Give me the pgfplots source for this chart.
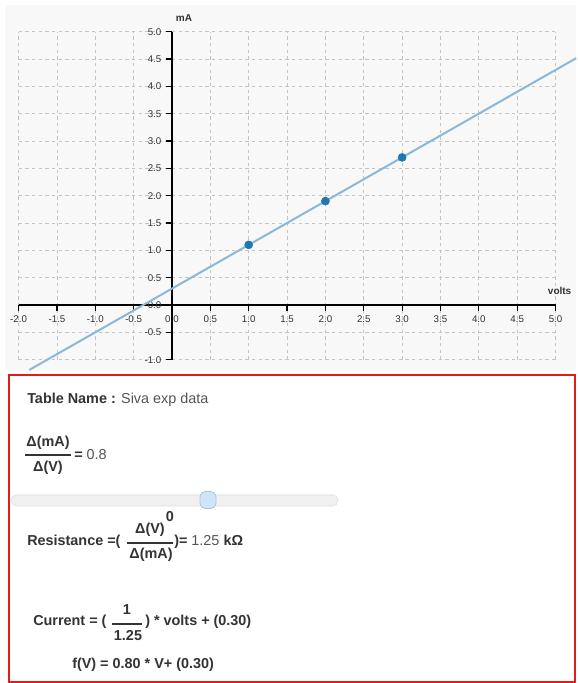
\documentclass[border=0pt]{standalone}
\usepackage{pgfplots}
\pgfplotsset{compat=1.18}
\usepackage{fontspec}
\setmainfont{Liberation Sans}

\definecolor{bgchart}{HTML}{F8F8F8}
\definecolor{gridc}{HTML}{C4C4C4}
\definecolor{fitline}{HTML}{8AB8DA}
\definecolor{ptblue}{HTML}{1F77B4}
\definecolor{boxred}{HTML}{E41B1B}
\definecolor{txtdark}{HTML}{333333}
\definecolor{txtgray}{HTML}{555555}
\definecolor{slidefill}{HTML}{F0F0F0}
\definecolor{slidedraw}{HTML}{DDDDDD}
\definecolor{knobfill}{HTML}{D2E5F8}
\definecolor{knobdraw}{HTML}{A4C6E8}

\begin{document}
\begin{tikzpicture}
% frame in pixels of the reference (1px = 0.75pt, y measured upwards)
\begin{scope}[x=0.75pt,y=0.75pt]
\useasboundingbox (0,0) rectangle (576,683);
\fill[white] (0,0) rectangle (576,683);
\fill[bgchart] (5,313) rectangle (576,678);
\end{scope}

% origin of the data at pixel (172, 305) from the top-left
\begin{axis}[
  at={(129pt,283.5pt)}, anchor=origin,
  scale only axis, width=402.75pt, height=246pt,
  xmin=-2, xmax=5, ymin=-1, ymax=5,
  axis lines=middle,
  clip=false,
  xtick={-2,-1.5,-1,-0.5,0,0.5,1,1.5,2,2.5,3,3.5,4,4.5,5},
  ytick={-1,-0.5,0,0.5,1,1.5,2,2.5,3,3.5,4,4.5,5},
  hide obscured x ticks=false, hide obscured y ticks=false,
  grid=major,
  major grid style={gridc, dash pattern=on 2.5pt off 2.5pt, line width=0.6pt},
  axis line style={-, black, line width=0.9pt},
  tick style={black, line width=0.9pt},
  tick align=outside, major tick length=4.5pt,
  ticklabel style={font=\fontsize{7.3}{8}\selectfont, text=txtdark},
  /pgf/number format/fixed,
  /pgf/number format/fixed zerofill,
  /pgf/number format/precision=1,
  /pgf/number format/assume math mode=true,
]
% fitted line f(V) = 0.80 V + 0.30, end points
\addplot[fitline, line width=1.5pt, no marks] coordinates {(-1.86,-1.188) (5.27,4.516)};
% measured points
\addplot[only marks, mark=*, mark size=3pt, ptblue] coordinates {(1,1.1) (2,1.9) (3,2.7)};
\end{axis}

\begin{scope}[x=0.75pt,y=0.75pt,
  txt/.style={inner sep=0pt, text=txtdark, font=\fontsize{10.8}{13}\selectfont}]
\node[font=\bfseries\fontsize{7.5}{9}\selectfont, text=txtdark] at (184,665) {mA};
\node[font=\bfseries\fontsize{7.5}{9}\selectfont, text=txtdark, anchor=east] at (576,392) {volts};

% info panel
\draw[boxred, line width=1.5pt, fill=white] (9,1) rectangle (575,308);

\node[txt, anchor=west] at (27,283) {\textbf{Table Name :} {\color{txtgray}Siva exp data}};

\node[txt] at (48,240) {\textbf{Δ(mA)}};
\draw[txtdark, line width=0.8pt] (25,228) -- (71,228);
\node[txt] at (48,215) {\textbf{Δ(V)}};
\node[txt, anchor=west] at (74,228) {\textbf{=} {\color{txtgray}0.8}};

\draw[slidedraw, fill=slidefill, rounded corners=4pt] (11,177) rectangle (338,188);
\draw[knobdraw, fill=knobfill, rounded corners=4pt, line width=0.6pt] (200,174.5) rectangle (216,191.5);
\node[txt] at (170,166) {\textbf{0}};

\node[txt, anchor=west] at (27,141) {\textbf{Resistance =(}};
\node[txt] at (150,153) {\textbf{Δ(V)}};
\draw[txtdark, line width=0.8pt] (127,140) -- (173,140);
\node[txt] at (151,128) {\textbf{Δ(mA)}};
\node[txt, anchor=west] at (174,141) {\textbf{)=} {\color{txtgray}1.25} \textbf{kΩ}};

\node[txt, anchor=west] at (33,61) {\textbf{Current = (}};
\node[txt] at (127,73) {\textbf{1}};
\draw[txtdark, line width=0.8pt] (112,59) -- (142,59);
\node[txt] at (128,47) {\textbf{1.25}};
\node[txt, anchor=west] at (145,61) {\textbf{) * volts + (0.30)}};

\node[txt, anchor=west] at (72,18) {\textbf{f(V) = 0.80 * V+ (0.30)}};
\end{scope}
\end{tikzpicture}
\end{document}
